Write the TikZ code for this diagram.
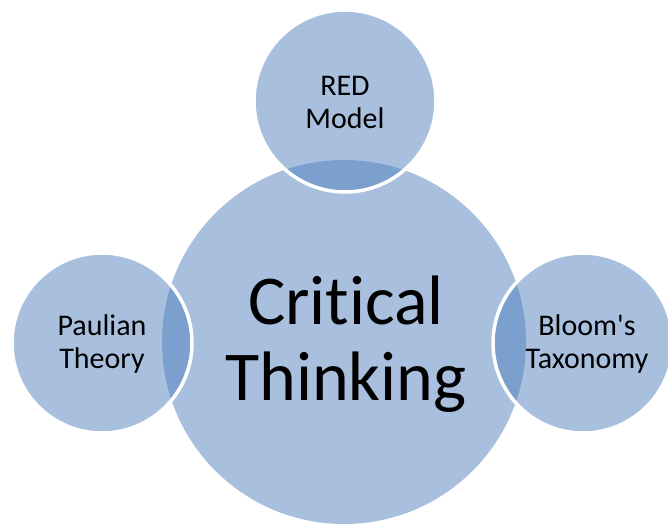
\documentclass[tikz,border=0pt]{standalone}
\usepackage{fontspec}
\setmainfont{Carlito}[Ligatures={NoCommon,NoContextual}]
\definecolor{lightb}{RGB}{168,191,222}
\definecolor{darkb}{RGB}{123,160,205}
\begin{document}
\begin{tikzpicture}[x=1pt,y=-1pt,
  bigtext/.style={align=center,font=\fontsize{70}{76}\selectfont,text=black},
  smalltext/.style={align=center,font=\fontsize{30}{33}\selectfont,text=black},
  ring/.style={draw=white,line width=3.5pt}]
\useasboundingbox[fill=white] (0,0) rectangle (668,525);
\coordinate (C) at (344,342);
\coordinate (T) at (345,101);
\coordinate (L) at (102,343);
\coordinate (R) at (583,343);
\def\rc{182}
\def\rs{91}
% base fills
\fill[lightb] (C) circle (\rc);
\fill[lightb] (T) circle (\rs);
\fill[lightb] (L) circle (90);
\fill[lightb] (R) circle (90);
% overlaps
\begin{scope}
\clip (C) circle (\rc);
\fill[darkb] (T) circle (\rs);
\fill[darkb] (L) circle (90);
\fill[darkb] (R) circle (90);
\end{scope}
% white outlines
\draw[ring] (T) circle (\rs);
\draw[ring] (L) circle (90);
\draw[ring] (R) circle (90);
% texts
\node[bigtext] (ct) at (346,344) {Critical\\Thinking};
\node[smalltext] (red) at (345,102) {RED\\Model};
\node[smalltext] (pt) at (102,344) {Paulian\\Theory};
\node[smalltext] (bt) at (587,344) {Bloom\textquotesingle s\\Taxonomy};
\end{tikzpicture}
\end{document}
